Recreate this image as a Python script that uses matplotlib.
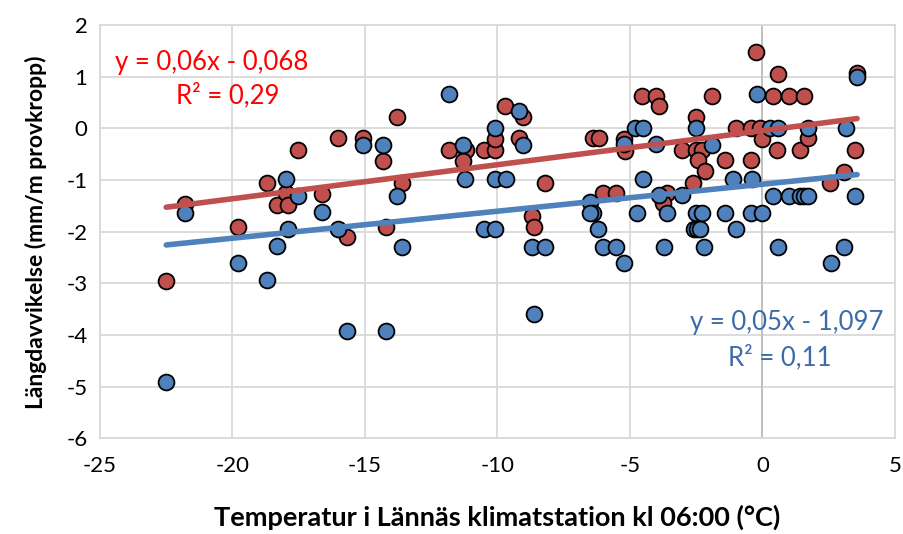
import matplotlib.pyplot as plt
import numpy as np

plt.rcParams['font.family'] = ['Lato', 'DejaVu Sans']
plt.rcParams['axes.unicode_minus'] = False

# red series (temperature, length deviation)
red_x = [-22.5, -21.8, -19.8, -18.7, -18.33, -17.99, -17.89, -17.51, -16.61, -16.03,
         -15.69, -15.08, -14.31, -14.2, -13.8, -13.61, -11.82, -11.19, -11.29, -10.51,
         -10.11, -10.11, -9.72, -9.03, -9.19, -8.2, -8.71, -8.62, -6.39, -6.16,
         -6.01, -5.51, -5.22, -5.19, -4.53, -4.02, -3.91, -3.62, -3.75, -3.05,
         -2.52, -2.52, -2.3, -2.43, -2.18, -2.62, -1.92, -1.4, -1.01, -0.42,
         -0.1, -0.42, -0.23, 0.0, 0.38, 0.55, 0.59, 0.99, 1.41, 1.57,
         1.7, 2.56, 3.08, 3.49, 3.57]
red_y = [-2.95, -1.47, -1.9, -1.05, -1.48, -1.25, -1.48, -0.42, -1.26, -0.19,
         -2.11, -0.18, -0.63, -1.9, 0.22, -1.05, -0.42, -0.42, -0.63, -0.42,
         -0.42, -0.21, 0.43, 0.22, -0.19, -1.05, -1.69, -1.9, -0.19, -0.19,
         -1.25, -1.25, -0.21, -0.43, 0.63, 0.63, 0.43, -1.25, -1.45, -0.42,
         0.22, -0.42, -0.42, -0.62, -0.83, -1.05, 0.63, -0.62, 0.01, 0.01,
         0.01, -0.62, 1.48, -0.2, 0.63, -0.42, 1.06, 0.63, -0.42, 0.63,
         -0.19, -1.06, -0.84, -0.42, 1.08]

# blue series
blue_x = [-22.5, -21.8, -19.81, -18.7, -18.33, -17.99, -17.51, -17.89, -16.61, -16.03,
          -15.69, -15.08, -14.31, -14.2, -13.8, -13.61, -11.82, -11.29, -11.21, -10.51,
          -10.11, -10.11, -10.11, -9.69, -9.19, -9.03, -8.71, -8.2, -8.61, -6.51,
          -6.39, -6.51, -6.22, -6.01, -5.51, -5.22, -5.22, -4.82, -4.5, -4.5,
          -4.02, -4.73, -3.9, -3.6, -3.71, -3.02, -2.52, -2.52, -2.3, -2.59,
          -2.47, -2.34, -2.2, -1.92, -1.41, -1.01, -1.11, -0.39, -0.42, 0.0,
          -0.2, 0.3, 0.59, 0.38, 0.99, 1.41, 1.57, 1.7, 1.7, 3.17,
          3.49, 3.57, 0.59, 2.58, 3.08]
blue_y = [-4.9, -1.63, -2.61, -2.94, -2.28, -0.975, -1.31, -1.955, -1.62, -1.94,
          -3.93, -0.32, -0.32, -3.93, -1.3, -2.29, 0.66, -0.32, -0.98, -1.955,
          -1.955, 0.01, -0.98, -0.98, 0.33, -0.32, -2.29, -2.29, -3.59, -1.43,
          -1.63, -1.63, -1.955, -2.29, -2.29, -2.61, -0.31, 0.0, 0.0, -0.98,
          -0.31, -1.63, -1.29, -1.63, -2.29, -1.29, 0.0, -1.63, -1.63, -1.955,
          -1.955, -1.955, -2.29, -0.32, -1.63, -1.955, -0.98, -0.98, -1.63, -1.63,
          0.66, 0.0, 0.0, -1.3, -1.3, -1.3, -1.3, -1.3, 0.01, 0.0,
          -1.3, 0.99, -2.29, -2.61, -2.29]

red_eq = ['y = 0,06x - 0,068', 'R² = 0,29']
blue_eq = ['y = 0,05x - 1,097', 'R² = 0,11']

RED = '#C0504D'
BLUE = '#4F81BD'

fig = plt.figure(figsize=(9.04, 5.34), dpi=100)
ax = fig.add_axes([0.1106, 0.179, 0.8794, 0.774])

ax.scatter(red_x, red_y, s=130, c=RED, edgecolors='black', linewidths=1.3, zorder=3)
ax.scatter(blue_x, blue_y, s=130, c=BLUE, edgecolors='black', linewidths=1.3, zorder=4)

# linear trendlines
for xs, ys, col in [(red_x, red_y, RED), (blue_x, blue_y, BLUE)]:
    k, m = np.polyfit(xs, ys, 1)
    xx = np.array([min(xs), max(xs)])
    ax.plot(xx, k * xx + m, color=col, linewidth=4, solid_capstyle='round', zorder=5)

ax.set_xlim(-25, 5)
ax.set_ylim(-6, 2)
ax.set_xticks(np.arange(-25, 6, 5))
ax.set_yticks(np.arange(-6, 3, 1))
ax.grid(True, color='#d9d9d9', linewidth=1.3, zorder=0)
ax.axvline(0, color='#bfbfbf', linewidth=1.3, zorder=1)
for s in ax.spines.values():
    s.set_color('#d9d9d9')
    s.set_linewidth(1.3)
ax.tick_params(length=0, labelsize=16, colors='black')
ax.tick_params(axis='x', pad=13)
ax.tick_params(axis='y', pad=9)
ax.set_axisbelow(True)

ax.set_xlabel('Temperatur i Lännäs klimatstation kl 06:00 (°C)', fontsize=19.5,
              fontweight='bold', labelpad=20)
ax.set_ylabel('Längdavvikelse (mm/m provkropp)', fontsize=16.5, fontweight='bold', labelpad=14)

ax.text(0.141, 0.9105, red_eq[0], transform=ax.transAxes, color='red', fontsize=18.5,
        ha='center', va='center')
ax.text(0.161, 0.8306, red_eq[1], transform=ax.transAxes, color='red', fontsize=18.5,
        ha='center', va='center')
ax.text(0.985, 0.2814, blue_eq[0], transform=ax.transAxes, color='#3D6BAA', fontsize=18.5,
        ha='right', va='center')
ax.text(0.855, 0.197, blue_eq[1], transform=ax.transAxes, color='#3D6BAA', fontsize=18.5,
        ha='center', va='center')

plt.savefig('out.png', dpi=100)
